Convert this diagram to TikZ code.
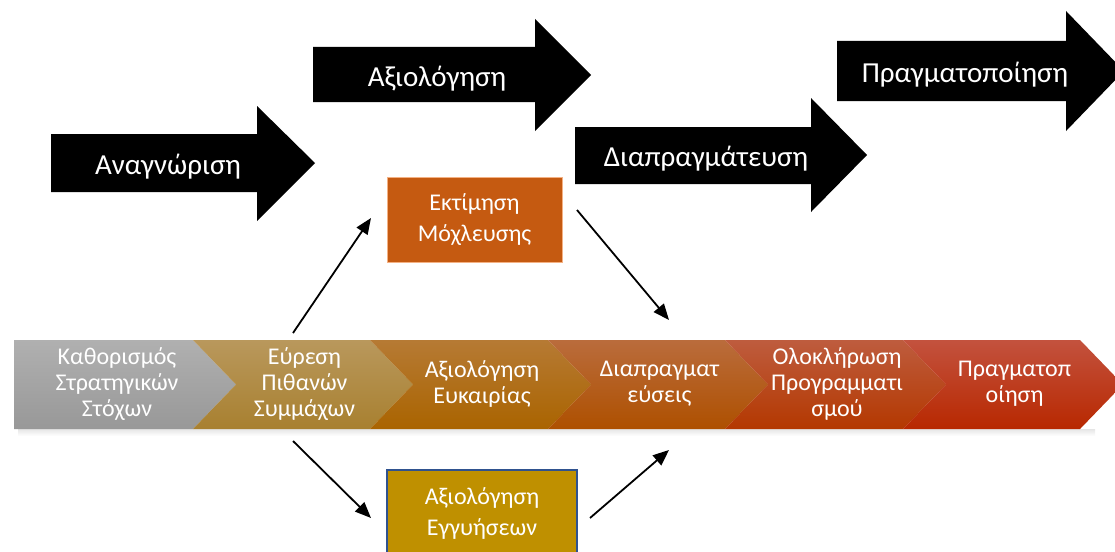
\documentclass[tikz,border=0pt]{standalone}
\usepackage{fontspec}
\setmainfont{Carlito}
\usetikzlibrary{arrows.meta}

\definecolor{boxorange}{HTML}{C55A11}
\definecolor{boxorangeline}{HTML}{F4B183}
\definecolor{boxgold}{HTML}{BF9000}
\definecolor{boxgoldline}{HTML}{2F528F}

\tikzset{
  toptext/.style={text=white,font=\fontsize{29}{34}\selectfont},
  segtext/.style={text=white,align=center,font=\fontsize{24}{26}\selectfont},
  boxtext/.style={text=white,align=center,font=\fontsize{24}{31}\selectfont},
  flow/.style={-{Triangle[length=16pt,width=13pt]},line width=1.8pt}
}

\begin{document}
\begin{tikzpicture}[x=1pt,y=-1pt]
  \useasboundingbox (0,0) rectangle (1115,551);
  \clip (0,0) rectangle (1115,551);

  % black arrows on top
  \fill (51,134) -- (257,134) -- (257,106) -- (315,163) -- (257,221) -- (257,192) -- (51,192) -- cycle;
  \node[toptext] (anag) at (168,167) {Αναγνώριση};
  \fill (313,47) -- (535,47) -- (535,19) -- (591,75) -- (535,131) -- (535,102) -- (313,102) -- cycle;
  \node[toptext] (axiol) at (437,79) {Αξιολόγηση};
  \fill (575,127) -- (811,127) -- (811,98) -- (867,155) -- (811,212) -- (811,184) -- (575,184) -- cycle;
  \node[toptext] (diapr) at (706,159) {Διαπραγμάτευση};
  \fill (837,41) -- (1066,41) -- (1066,11) -- (1124,71) -- (1066,131) -- (1066,101) -- (837,101) -- cycle;
  \node[toptext] (pragm) at (965,75) {Πραγματοποίηση};

  % band of chevrons
  \shade[top color=black!10, bottom color=white] (18,429) rectangle (1095,436);
  \shade[top color={rgb,255:red,176;green,176;blue,176}, bottom color={rgb,255:red,152;green,152;blue,152}]
    (14,340) -- (193,340) -- (236,384.5) -- (193,429) -- (14,429) -- cycle;
  \node[segtext] (seg1) at (117,384) {Καθορισμός\\Στρατηγικών\\Στόχων};
  \foreach \L/\R/\rt/\gt/\bt/\rb/\gb/\bb/\name/\txt in {
      193/370/185/152/92/168/128/48/seg2/{Εύρεση\\Πιθανών\\Συμμάχων},
      370/548/182/122/52/170/100/0/seg3/{Αξιολόγηση\\Ευκαιρίας},
      548/725/186/108/60/174/80/0/seg4/{Διαπραγματ\\εύσεις},
      725/903/190/92/62/180/56/0/seg5/{Ολοκλήρωση\\Προγραμματι\\σμού},
      903/1080/195/82/62/184/40/0/seg6/{Πραγματοπ\\οίηση}} {
    \shade[top color={rgb,255:red,\rt;green,\gt;blue,\bt}, bottom color={rgb,255:red,\rb;green,\gb;blue,\bb}]
      (\L,340) -- (\R,340) -- (\R+43,384.5) -- (\R,429) -- (\L,429) -- (\L+43,384.5) -- cycle;
    \node[segtext] (\name) at ({(\L+\R)/2+23},384) {\txt};
  }

  % boxes
  \node[draw=boxorangeline, fill=boxorange, line width=1pt, minimum width=175pt, minimum height=85pt,
        boxtext] (moxl) at (474.5,219.5) {Εκτίμηση\\Μόχλευσης};
  \node[draw=boxgoldline, fill=boxgold, line width=1.2pt, minimum width=190pt, minimum height=86pt,
        boxtext] (engy) at (482,513) {Αξιολόγηση\\Εγγυήσεων};

  % connectors
  \coordinate (a1s) at (293,333);
  \coordinate (a1e) at (371,218);
  \coordinate (a2s) at (577,210);
  \coordinate (a2e) at (669,320);
  \coordinate (a3s) at (293,441);
  \coordinate (a3e) at (371,518);
  \coordinate (a4s) at (590,518);
  \coordinate (a4e) at (669,450);
  \draw[flow] (a1s) -- (a1e);
  \draw[flow] (a2s) -- (a2e);
  \draw[flow] (a3s) -- (a3e);
  \draw[flow] (a4s) -- (a4e);
\end{tikzpicture}
\end{document}
